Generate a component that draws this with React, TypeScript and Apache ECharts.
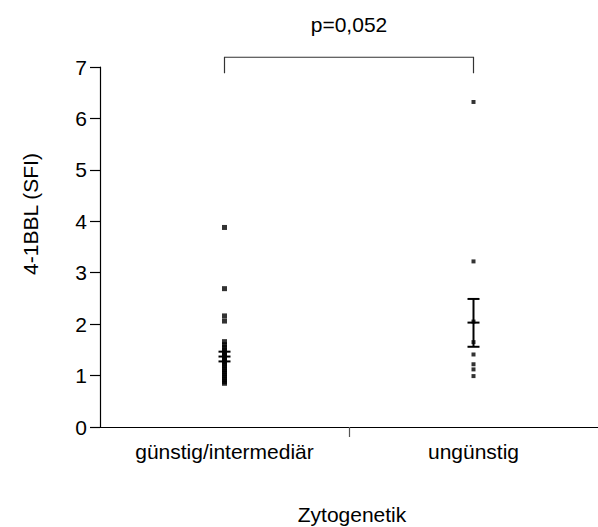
import React, { useEffect, useRef } from "react";
import * as echarts from "echarts";

const categories = ["günstig/intermediär", "ungünstig"];
const categoryPositions = [0.5, 1.5];
const group1Values = [3.88, 2.69, 2.16, 2.06, 1.66, 1.6, 1.55, 1.5, 1.46, 1.42, 1.39, 1.36, 1.33, 1.3, 1.27, 1.24, 1.2, 1.16, 1.12, 1.08, 1.04, 1.0, 0.96, 0.92, 0.88, 0.85];
const group2Values = [6.32, 3.22, 2.05, 1.65, 1.41, 1.22, 1.12, 0.99];
const means = [1.37, 2.03];
const lowerBars = [1.275, 1.56];
const upperBars = [1.465, 2.49];
const yTicks = [0, 1, 2, 3, 4, 5, 6, 7];
const pValueText = "p=0,052";
const bracketTop = 7.19;
const bracketLeg = 6.88;

const FONT = "'Liberation Sans', Arial, sans-serif";
const FS = 21;

export default function App() {
  const ref = useRef<HTMLDivElement>(null);
  useEffect(() => {
    if (!ref.current) return;
    const chart = echarts.init(ref.current, null, { renderer: "svg" });
    const labelMap: Record<string, string> = {};
    categoryPositions.forEach((p, i) => (labelMap[String(p)] = categories[i]));
    chart.setOption({
      animation: false,
      backgroundColor: "#fff",
      grid: { left: 100, top: 67, width: 500, bottom: 100, containLabel: false },
      xAxis: {
        type: "value",
        min: 0,
        max: 2,
        interval: 0.5,
        splitLine: { show: false },
        axisLine: { show: true, onZero: false, lineStyle: { color: "#000", width: 1.2 } },
        axisTick: { show: true, customValues: [1], length: 10, lineStyle: { color: "#555", width: 1.2 } },
        axisLabel: {
          customValues: categoryPositions,
          formatter: (v: number) => labelMap[String(v)] ?? "",
          margin: 14,
          color: "#000",
          fontSize: FS,
          fontFamily: FONT,
        },
      },
      yAxis: {
        type: "value",
        min: yTicks[0],
        max: yTicks[yTicks.length - 1],
        interval: 1,
        splitLine: { show: false },
        axisLine: { show: true, lineStyle: { color: "#000", width: 1.2 } },
        axisTick: { show: true, length: 10, lineStyle: { color: "#000", width: 1.2 } },
        axisLabel: { margin: 13, color: "#000", fontSize: FS, fontFamily: FONT },
      },
      graphic: [
        {
          type: "text",
          x: 30,
          y: 214,
          rotation: Math.PI / 2,
          style: { text: "4-1BBL (SFI)", align: "center", verticalAlign: "middle", fontSize: FS, fontFamily: FONT, fill: "#000" },
        },
        {
          type: "text",
          x: 352,
          y: 514,
          style: { text: "Zytogenetik", align: "center", verticalAlign: "middle", fontSize: FS, fontFamily: FONT, fill: "#000" },
        },
      ],
      series: [
        {
          type: "scatter",
          symbol: "rect",
          symbolSize: 5,
          itemStyle: { color: "#000" },
          data: group1Values.map((v) => [categoryPositions[0], v]),
        },
        {
          type: "scatter",
          symbol: "rect",
          symbolSize: 4,
          itemStyle: { color: "#000" },
          data: group2Values.map((v) => [categoryPositions[1], v]),
        },
        {
          type: "custom",
          clip: false,
          encode: { x: 0, y: [1, 2, 3] },
          data: categoryPositions.map((p, i) => [p, means[i], lowerBars[i], upperBars[i]]),
          renderItem: (params: any, api: any) => {
            const x = api.value(0);
            const pm = api.coord([x, api.value(1)]);
            const pl = api.coord([x, api.value(2)]);
            const ph = api.coord([x, api.value(3)]);
            const hw = 6;
            const st = { stroke: "#000", lineWidth: 2 };
            return {
              type: "group",
              children: [
                { type: "line", shape: { x1: pl[0], y1: pl[1], x2: ph[0], y2: ph[1] }, style: st },
                { type: "line", shape: { x1: ph[0] - hw, y1: ph[1], x2: ph[0] + hw, y2: ph[1] }, style: st },
                { type: "line", shape: { x1: pm[0] - hw, y1: pm[1], x2: pm[0] + hw, y2: pm[1] }, style: st },
                { type: "line", shape: { x1: pl[0] - hw, y1: pl[1], x2: pl[0] + hw, y2: pl[1] }, style: st },
              ],
            };
          },
        },
        {
          type: "custom",
          clip: false,
          encode: { x: [0, 1], y: [2, 3] },
          data: [[categoryPositions[0], categoryPositions[1], bracketTop, bracketLeg]],
          renderItem: (params: any, api: any) => {
            const a = api.coord([api.value(0), api.value(2)]);
            const b = api.coord([api.value(1), api.value(2)]);
            const aLeg = api.coord([api.value(0), api.value(3)]);
            const bLeg = api.coord([api.value(1), api.value(3)]);
            return {
              type: "group",
              children: [
                {
                  type: "polyline",
                  shape: { points: [aLeg, a, b, bLeg] },
                  style: { stroke: "#333", lineWidth: 1.2, fill: null },
                },
                {
                  type: "text",
                  x: (a[0] + b[0]) / 2,
                  y: a[1] - 33,
                  style: { text: pValueText, align: "center", verticalAlign: "middle", fontSize: FS, fontFamily: FONT, fill: "#000" },
                },
              ],
            };
          },
        },
      ],
    });
    return () => chart.dispose();
  }, []);
  return <div ref={ref} style={{ position: "fixed", left: 0, top: 0, width: 598, height: 527 }} />;
}
